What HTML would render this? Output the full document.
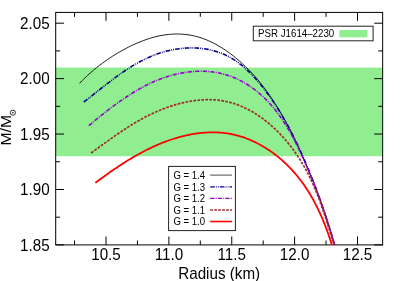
<!DOCTYPE html>
<html><head><meta charset="utf-8"><title>M-R</title>
<style>html,body{margin:0;padding:0;background:#fff;width:400px;height:281px;overflow:hidden;font-family:"Liberation Sans",sans-serif}</style></head>
<body>
<svg width="400" height="281" viewBox="0 0 400 281" style="position:absolute;left:0;top:0;will-change:transform;font-family:'Liberation Sans',sans-serif">
<defs><clipPath id="c"><rect x="55.70" y="12.40" width="326.95" height="232.50"/></clipPath></defs>
<rect width="400" height="281" fill="#fff"/>
<rect x="55.70" y="67.54" width="326.95" height="88.68" fill="#90ee90"/>
<rect x="55.70" y="12.40" width="326.95" height="232.50" fill="none" stroke="#000" stroke-width="1"/>
<path d="M74.56,244.90v-4.4M74.56,12.40v4.4M106.00,244.90v-8.4M106.00,12.40v8.4M137.44,244.90v-4.4M137.44,12.40v4.4M168.88,244.90v-8.4M168.88,12.40v8.4M200.31,244.90v-4.4M200.31,12.40v4.4M231.75,244.90v-8.4M231.75,12.40v8.4M263.19,244.90v-4.4M263.19,12.40v4.4M294.62,244.90v-8.4M294.62,12.40v8.4M326.06,244.90v-4.4M326.06,12.40v4.4M357.50,244.90v-8.4M357.50,12.40v8.4M55.70,244.90h8.4M382.65,244.90h-8.4M55.70,217.19h4.4M382.65,217.19h-4.4M55.70,189.47h8.4M382.65,189.47h-8.4M55.70,161.76h4.4M382.65,161.76h-4.4M55.70,134.05h8.4M382.65,134.05h-8.4M55.70,106.34h4.4M382.65,106.34h-4.4M55.70,78.63h8.4M382.65,78.63h-8.4M55.70,50.91h4.4M382.65,50.91h-4.4M55.70,23.20h8.4M382.65,23.20h-8.4" stroke="#000" stroke-width="1" fill="none"/>
<text transform="translate(106.00,260.00) scale(1.0,1.05)" font-size="15.2" text-anchor="middle">10.5</text>
<text transform="translate(168.88,260.00) scale(1.0,1.05)" font-size="15.2" text-anchor="middle">11.0</text>
<text transform="translate(231.75,260.00) scale(1.0,1.05)" font-size="15.2" text-anchor="middle">11.5</text>
<text transform="translate(294.62,260.00) scale(1.0,1.05)" font-size="15.2" text-anchor="middle">12.0</text>
<text transform="translate(357.50,260.00) scale(1.0,1.05)" font-size="15.2" text-anchor="middle">12.5</text>
<text transform="translate(49.60,250.70) scale(1.0,1.05)" font-size="15.2" text-anchor="end">1.85</text>
<text transform="translate(49.60,195.28) scale(1.0,1.05)" font-size="15.2" text-anchor="end">1.90</text>
<text transform="translate(49.60,139.85) scale(1.0,1.05)" font-size="15.2" text-anchor="end">1.95</text>
<text transform="translate(49.60,84.43) scale(1.0,1.05)" font-size="15.2" text-anchor="end">2.00</text>
<text transform="translate(49.60,29.00) scale(1.0,1.05)" font-size="15.2" text-anchor="end">2.05</text>
<text transform="translate(219.20,279.40) scale(1.0,1.05)" font-size="15.2" text-anchor="middle">Radius (km)</text>
<g transform="translate(11,145.6) rotate(-90)"><text x="0" y="0" font-size="15.2" transform="scale(1.04,0.96)">M/M</text></g>
<circle cx="12.9" cy="112.7" r="2.6" fill="none" stroke="#000" stroke-width="0.8"/><circle cx="12.9" cy="112.7" r="0.8" fill="#000"/>
<g clip-path="url(#c)" fill="none" stroke-linejoin="round">
<path d="M79.59,83.38 L80.84,82.05 L82.12,80.73 L83.42,79.41 L84.75,78.10 L86.11,76.80 L87.49,75.50 L88.90,74.21 L90.33,72.93 L91.78,71.66 L93.26,70.40 L94.76,69.15 L96.28,67.91 L97.83,66.68 L99.39,65.46 L100.97,64.26 L102.58,63.06 L104.20,61.88 L105.84,60.72 L107.50,59.57 L109.18,58.43 L110.88,57.31 L112.59,56.20 L114.31,55.11 L116.06,54.04 L117.81,52.99 L119.58,51.95 L121.37,50.93 L123.17,49.94 L124.98,48.96 L126.80,48.00 L128.63,47.06 L130.47,46.15 L132.33,45.26 L134.19,44.39 L136.06,43.56 L137.94,42.74 L139.83,41.96 L141.73,41.21 L143.63,40.48 L145.54,39.79 L147.45,39.14 L149.37,38.51 L151.30,37.93 L153.23,37.37 L155.16,36.86 L157.09,36.39 L159.03,35.95 L160.97,35.56 L162.90,35.21 L164.84,34.90 L166.78,34.64 L168.72,34.43 L170.66,34.26 L172.60,34.13 L174.53,34.05 L176.46,34.02 L178.39,34.03 L180.32,34.09 L182.24,34.20 L184.15,34.35 L186.06,34.55 L187.96,34.80 L189.86,35.09 L191.75,35.43 L193.63,35.82 L195.51,36.26 L197.37,36.74 L199.23,37.27 L201.08,37.85 L202.91,38.48 L204.74,39.16 L206.55,39.88 L208.36,40.64 L210.15,41.45 L211.92,42.29 L213.69,43.18 L215.44,44.10 L217.17,45.06 L218.89,46.05 L220.59,47.07 L222.28,48.12 L223.95,49.19 L225.61,50.29 L227.24,51.42 L228.86,52.57 L230.46,53.74 L232.04,54.93 L233.61,56.15 L235.15,57.38 L236.68,58.63 L238.19,59.91 L239.69,61.20 L241.16,62.51 L242.62,63.84 L244.07,65.19 L245.49,66.56 L246.90,67.95 L248.30,69.35 L249.68,70.77 L251.04,72.21 L252.39,73.66 L253.72,75.13 L255.04,76.61 L256.34,78.12 L257.63,79.63 L258.90,81.16 L260.16,82.70 L261.40,84.26 L262.63,85.83 L263.85,87.42 L265.05,89.02 L266.24,90.63 L267.41,92.25 L268.57,93.88 L269.72,95.53 L270.86,97.18 L271.98,98.85 L273.09,100.53 L274.19,102.22 L275.27,103.91 L276.35,105.62 L277.41,107.33 L278.46,109.06 L279.50,110.79 L280.53,112.53 L281.54,114.28 L282.55,116.03 L283.54,117.79 L284.53,119.56 L285.50,121.33 L286.46,123.11 L287.42,124.90 L288.36,126.69 L289.29,128.48 L290.22,130.28 L291.13,132.08 L292.04,133.89 L292.93,135.70 L293.82,137.51 L294.70,139.33 L295.57,141.15 L296.43,142.96 L297.29,144.79 L298.13,146.61 L298.97,148.43 L299.80,150.25 L300.63,152.08 L301.44,153.90 L302.25,155.72 L303.05,157.54 L303.85,159.36 L304.64,161.18 L305.42,162.99 L306.20,164.81 L306.97,166.62 L307.73,168.43 L308.49,170.24 L309.24,172.04 L309.99,173.85 L310.73,175.65 L311.46,177.46 L312.19,179.26 L312.92,181.07 L313.63,182.87 L314.34,184.68 L315.05,186.49 L315.75,188.29 L316.45,190.11 L317.14,191.92 L317.82,193.73 L318.50,195.55 L319.18,197.37 L319.85,199.19 L320.51,201.02 L321.17,202.85 L321.82,204.68 L322.47,206.52 L323.11,208.36 L323.75,210.21 L324.39,212.07 L325.02,213.92 L325.64,215.79 L326.26,217.66 L326.88,219.54 L327.49,221.42 L328.10,223.31 L328.70,225.21 L329.30,227.11 L329.89,229.03 L330.48,230.95 L331.06,232.88 L331.65,234.82 L332.22,236.76 L332.80,238.72 L333.36,240.69 L333.93,242.66 L334.49,244.65 L335.05,246.64 L335.60,248.65" stroke="#000000" stroke-width="0.9"/>
<path d="M83.79,102.01 L85.22,100.93 L86.65,99.83 L88.09,98.71 L89.54,97.59 L90.99,96.45 L92.45,95.30 L93.92,94.14 L95.40,92.98 L96.88,91.80 L98.37,90.62 L99.86,89.44 L101.37,88.25 L102.88,87.06 L104.40,85.87 L105.93,84.67 L107.47,83.48 L109.02,82.29 L110.57,81.10 L112.14,79.92 L113.71,78.74 L115.29,77.57 L116.89,76.40 L118.49,75.25 L120.10,74.10 L121.72,72.97 L123.35,71.84 L124.99,70.73 L126.64,69.64 L128.30,68.56 L129.98,67.49 L131.66,66.44 L133.35,65.42 L135.06,64.41 L136.78,63.42 L138.50,62.45 L140.24,61.51 L141.99,60.59 L143.76,59.70 L145.53,58.83 L147.32,58.00 L149.12,57.19 L150.93,56.41 L152.75,55.66 L154.59,54.94 L156.44,54.26 L158.30,53.60 L160.17,52.99 L162.05,52.40 L163.93,51.85 L165.83,51.34 L167.73,50.85 L169.64,50.41 L171.55,50.00 L173.47,49.62 L175.39,49.28 L177.32,48.98 L179.24,48.71 L181.17,48.48 L183.10,48.29 L185.03,48.14 L186.95,48.02 L188.87,47.95 L190.79,47.91 L192.71,47.91 L194.62,47.96 L196.53,48.04 L198.43,48.16 L200.32,48.32 L202.21,48.53 L204.08,48.77 L205.95,49.06 L207.80,49.39 L209.65,49.77 L211.48,50.18 L213.30,50.64 L215.10,51.14 L216.89,51.69 L218.67,52.28 L220.42,52.92 L222.17,53.60 L223.89,54.33 L225.59,55.10 L227.28,55.92 L228.94,56.79 L230.59,57.70 L232.21,58.66 L233.82,59.65 L235.40,60.69 L236.97,61.77 L238.51,62.88 L240.04,64.04 L241.55,65.23 L243.04,66.45 L244.51,67.70 L245.96,68.99 L247.40,70.30 L248.82,71.65 L250.22,73.02 L251.60,74.41 L252.96,75.84 L254.31,77.28 L255.65,78.74 L256.96,80.23 L258.26,81.73 L259.54,83.25 L260.81,84.79 L262.06,86.34 L263.30,87.90 L264.52,89.48 L265.73,91.07 L266.92,92.66 L268.10,94.26 L269.26,95.87 L270.41,97.49 L271.54,99.11 L272.66,100.74 L273.77,102.38 L274.86,104.02 L275.94,105.67 L277.01,107.33 L278.06,108.99 L279.11,110.66 L280.14,112.33 L281.15,114.01 L282.16,115.69 L283.15,117.38 L284.14,119.08 L285.11,120.78 L286.07,122.48 L287.02,124.19 L287.96,125.90 L288.89,127.62 L289.80,129.35 L290.71,131.07 L291.61,132.80 L292.50,134.54 L293.38,136.27 L294.25,138.02 L295.11,139.76 L295.96,141.51 L296.80,143.26 L297.64,145.01 L298.47,146.77 L299.29,148.53 L300.10,150.29 L300.90,152.05 L301.70,153.82 L302.49,155.59 L303.27,157.36 L304.05,159.13 L304.82,160.90 L305.58,162.68 L306.34,164.45 L307.09,166.23 L307.83,168.01 L308.57,169.79 L309.30,171.57 L310.03,173.35 L310.75,175.14 L311.47,176.92 L312.18,178.71 L312.88,180.50 L313.58,182.29 L314.28,184.09 L314.96,185.88 L315.65,187.68 L316.32,189.48 L317.00,191.28 L317.66,193.08 L318.33,194.89 L318.98,196.70 L319.64,198.51 L320.28,200.32 L320.93,202.14 L321.56,203.96 L322.20,205.78 L322.82,207.61 L323.45,209.43 L324.07,211.26 L324.68,213.09 L325.29,214.93 L325.90,216.77 L326.50,218.61 L327.09,220.45 L327.69,222.30 L328.27,224.15 L328.86,226.01 L329.44,227.87 L330.01,229.73 L330.59,231.59 L331.15,233.46 L331.72,235.33 L332.28,237.21 L332.84,239.09 L333.39,240.97 L333.94,242.86 L334.49,244.75 L335.03,246.64 L335.57,248.54" stroke="#00008b" stroke-width="1.6" stroke-dasharray="4.6 1.1 0.9 1.1 0.9 1.1"/>
<path d="M88.88,125.69 L90.22,124.53 L91.57,123.37 L92.93,122.22 L94.29,121.07 L95.66,119.92 L97.04,118.78 L98.43,117.65 L99.82,116.52 L101.23,115.39 L102.64,114.27 L104.06,113.15 L105.48,112.04 L106.92,110.93 L108.36,109.83 L109.81,108.73 L111.27,107.64 L112.74,106.55 L114.22,105.47 L115.70,104.39 L117.19,103.32 L118.70,102.25 L120.21,101.19 L121.73,100.13 L123.26,99.08 L124.80,98.04 L126.34,97.01 L127.90,95.98 L129.46,94.96 L131.04,93.96 L132.62,92.97 L134.22,91.99 L135.82,91.02 L137.44,90.07 L139.06,89.13 L140.69,88.21 L142.33,87.30 L143.99,86.42 L145.65,85.55 L147.32,84.70 L149.01,83.88 L150.70,83.07 L152.40,82.29 L154.12,81.53 L155.84,80.80 L157.58,80.09 L159.32,79.40 L161.07,78.74 L162.83,78.10 L164.60,77.49 L166.37,76.91 L168.15,76.35 L169.94,75.82 L171.73,75.31 L173.53,74.84 L175.33,74.39 L177.14,73.97 L178.94,73.57 L180.76,73.21 L182.57,72.88 L184.39,72.57 L186.20,72.30 L188.02,72.05 L189.84,71.84 L191.66,71.66 L193.48,71.51 L195.30,71.39 L197.11,71.31 L198.93,71.25 L200.74,71.23 L202.54,71.25 L204.35,71.29 L206.15,71.37 L207.94,71.49 L209.74,71.64 L211.52,71.83 L213.30,72.05 L215.07,72.30 L216.84,72.60 L218.59,72.93 L220.34,73.30 L222.08,73.70 L223.81,74.14 L225.54,74.63 L227.25,75.15 L228.95,75.70 L230.64,76.30 L232.32,76.93 L233.98,77.61 L235.64,78.31 L237.28,79.06 L238.91,79.84 L240.53,80.65 L242.13,81.49 L243.71,82.37 L245.29,83.28 L246.85,84.23 L248.39,85.20 L249.92,86.21 L251.43,87.24 L252.92,88.31 L254.40,89.40 L255.86,90.52 L257.30,91.67 L258.72,92.84 L260.13,94.04 L261.52,95.26 L262.89,96.51 L264.23,97.79 L265.56,99.08 L266.87,100.40 L268.16,101.74 L269.42,103.10 L270.67,104.49 L271.90,105.89 L273.10,107.31 L274.29,108.75 L275.46,110.21 L276.61,111.69 L277.74,113.18 L278.86,114.69 L279.95,116.22 L281.03,117.76 L282.10,119.31 L283.14,120.88 L284.17,122.46 L285.19,124.05 L286.19,125.65 L287.17,127.27 L288.14,128.89 L289.10,130.53 L290.04,132.17 L290.97,133.82 L291.88,135.48 L292.79,137.15 L293.67,138.82 L294.55,140.50 L295.42,142.18 L296.27,143.87 L297.11,145.56 L297.95,147.25 L298.77,148.95 L299.58,150.65 L300.38,152.35 L301.17,154.05 L301.96,155.75 L302.73,157.45 L303.50,159.14 L304.25,160.84 L305.00,162.53 L305.75,164.22 L306.48,165.91 L307.21,167.59 L307.93,169.27 L308.65,170.94 L309.36,172.61 L310.06,174.28 L310.76,175.95 L311.45,177.62 L312.13,179.28 L312.81,180.95 L313.48,182.61 L314.15,184.28 L314.81,185.94 L315.46,187.60 L316.11,189.27 L316.75,190.93 L317.39,192.60 L318.02,194.27 L318.65,195.94 L319.27,197.61 L319.89,199.29 L320.50,200.97 L321.11,202.65 L321.71,204.34 L322.31,206.03 L322.91,207.72 L323.50,209.42 L324.08,211.13 L324.67,212.84 L325.24,214.55 L325.82,216.27 L326.39,218.00 L326.95,219.74 L327.52,221.48 L328.08,223.23 L328.63,224.99 L329.18,226.75 L329.73,228.53 L330.28,230.31 L330.82,232.10 L331.37,233.90 L331.90,235.72 L332.44,237.54 L332.97,239.37 L333.50,241.21 L334.03,243.07 L334.56,244.93 L335.08,246.81 L335.60,248.70" stroke="#9400d3" stroke-width="1.6" stroke-dasharray="4.2 1.2 1 1.2"/>
<path d="M91.17,152.96 L92.53,151.98 L93.89,151.00 L95.25,150.01 L96.62,149.02 L97.98,148.03 L99.35,147.04 L100.71,146.05 L102.09,145.05 L103.46,144.06 L104.83,143.07 L106.21,142.07 L107.60,141.08 L108.98,140.09 L110.37,139.10 L111.76,138.11 L113.16,137.13 L114.56,136.15 L115.96,135.17 L117.37,134.20 L118.79,133.23 L120.21,132.27 L121.63,131.31 L123.06,130.36 L124.49,129.42 L125.93,128.48 L127.38,127.55 L128.83,126.63 L130.29,125.71 L131.75,124.80 L133.23,123.90 L134.70,123.02 L136.19,122.14 L137.68,121.27 L139.18,120.41 L140.69,119.56 L142.21,118.73 L143.73,117.90 L145.26,117.09 L146.80,116.29 L148.35,115.51 L149.91,114.74 L151.47,113.98 L153.05,113.23 L154.63,112.51 L156.23,111.79 L157.83,111.10 L159.44,110.42 L161.06,109.75 L162.68,109.10 L164.31,108.48 L165.95,107.86 L167.59,107.27 L169.24,106.70 L170.90,106.14 L172.56,105.61 L174.23,105.09 L175.89,104.60 L177.57,104.12 L179.24,103.67 L180.92,103.24 L182.61,102.83 L184.29,102.45 L185.98,102.09 L187.67,101.75 L189.36,101.43 L191.05,101.14 L192.74,100.88 L194.43,100.64 L196.12,100.42 L197.81,100.24 L199.50,100.08 L201.19,99.94 L202.88,99.84 L204.56,99.76 L206.25,99.71 L207.92,99.68 L209.60,99.69 L211.27,99.73 L212.94,99.80 L214.61,99.90 L216.27,100.02 L217.92,100.18 L219.57,100.38 L221.22,100.60 L222.85,100.86 L224.49,101.15 L226.11,101.47 L227.73,101.83 L229.34,102.22 L230.94,102.65 L232.53,103.11 L234.12,103.60 L235.70,104.12 L237.26,104.67 L238.83,105.26 L240.38,105.88 L241.92,106.52 L243.45,107.20 L244.98,107.90 L246.49,108.64 L248.00,109.40 L249.49,110.19 L250.98,111.00 L252.45,111.84 L253.91,112.71 L255.37,113.61 L256.81,114.52 L258.24,115.47 L259.66,116.43 L261.07,117.42 L262.47,118.43 L263.85,119.47 L265.23,120.53 L266.59,121.60 L267.94,122.70 L269.28,123.82 L270.60,124.96 L271.92,126.11 L273.21,127.29 L274.50,128.48 L275.77,129.70 L277.03,130.92 L278.28,132.17 L279.51,133.43 L280.73,134.71 L281.93,136.00 L283.12,137.30 L284.30,138.62 L285.46,139.96 L286.60,141.30 L287.73,142.66 L288.85,144.03 L289.95,145.42 L291.03,146.81 L292.10,148.21 L293.15,149.63 L294.19,151.05 L295.21,152.48 L296.21,153.92 L297.19,155.37 L298.16,156.82 L299.12,158.28 L300.05,159.75 L300.97,161.22 L301.87,162.70 L302.75,164.19 L303.62,165.67 L304.47,167.17 L305.31,168.67 L306.13,170.17 L306.93,171.68 L307.72,173.20 L308.50,174.72 L309.26,176.24 L310.01,177.77 L310.75,179.30 L311.47,180.84 L312.18,182.38 L312.88,183.93 L313.57,185.48 L314.24,187.04 L314.91,188.60 L315.56,190.16 L316.20,191.73 L316.84,193.30 L317.46,194.87 L318.08,196.45 L318.68,198.03 L319.28,199.62 L319.87,201.21 L320.46,202.80 L321.03,204.40 L321.60,206.00 L322.16,207.60 L322.72,209.21 L323.27,210.81 L323.81,212.43 L324.35,214.04 L324.89,215.66 L325.42,217.28 L325.95,218.90 L326.47,220.53 L326.99,222.15 L327.51,223.78 L328.02,225.42 L328.54,227.05 L329.05,228.69 L329.56,230.33 L330.07,231.97 L330.58,233.61 L331.09,235.26 L331.59,236.90 L332.10,238.55 L332.61,240.20 L333.12,241.85 L333.64,243.51 L334.15,245.16 L334.67,246.82 L335.19,248.47" stroke="#a52a2a" stroke-width="1.7" stroke-dasharray="2.7 1.3"/>
<path d="M95.38,182.87 L96.55,181.98 L97.73,181.09 L98.92,180.21 L100.12,179.32 L101.32,178.43 L102.53,177.54 L103.75,176.66 L104.97,175.77 L106.20,174.89 L107.43,174.00 L108.68,173.12 L109.92,172.24 L111.18,171.36 L112.44,170.49 L113.71,169.61 L114.98,168.74 L116.26,167.88 L117.55,167.02 L118.84,166.16 L120.14,165.30 L121.45,164.45 L122.76,163.61 L124.07,162.77 L125.40,161.93 L126.73,161.10 L128.06,160.28 L129.41,159.46 L130.75,158.65 L132.11,157.85 L133.47,157.05 L134.83,156.26 L136.21,155.48 L137.58,154.70 L138.97,153.94 L140.36,153.18 L141.75,152.43 L143.15,151.69 L144.56,150.96 L145.97,150.24 L147.39,149.53 L148.82,148.83 L150.25,148.14 L151.68,147.46 L153.12,146.79 L154.57,146.13 L156.02,145.49 L157.48,144.85 L158.94,144.23 L160.41,143.62 L161.89,143.02 L163.37,142.44 L164.85,141.87 L166.34,141.31 L167.84,140.77 L169.34,140.24 L170.85,139.73 L172.36,139.23 L173.87,138.74 L175.39,138.27 L176.91,137.82 L178.43,137.38 L179.96,136.96 L181.49,136.55 L183.03,136.17 L184.57,135.79 L186.10,135.44 L187.64,135.10 L189.19,134.78 L190.73,134.48 L192.28,134.20 L193.82,133.94 L195.37,133.69 L196.92,133.47 L198.46,133.26 L200.01,133.07 L201.56,132.91 L203.10,132.76 L204.65,132.64 L206.19,132.53 L207.74,132.45 L209.28,132.39 L210.82,132.35 L212.36,132.33 L213.89,132.34 L215.42,132.37 L216.95,132.42 L218.48,132.49 L220.00,132.59 L221.52,132.71 L223.04,132.86 L224.55,133.03 L226.06,133.22 L227.56,133.44 L229.06,133.68 L230.55,133.95 L232.04,134.25 L233.52,134.57 L235.00,134.91 L236.47,135.28 L237.94,135.67 L239.40,136.08 L240.85,136.52 L242.30,136.98 L243.74,137.46 L245.18,137.97 L246.60,138.50 L248.02,139.04 L249.44,139.62 L250.84,140.21 L252.24,140.82 L253.63,141.46 L255.02,142.11 L256.39,142.79 L257.76,143.48 L259.12,144.20 L260.47,144.93 L261.81,145.68 L263.14,146.46 L264.47,147.25 L265.78,148.06 L267.09,148.89 L268.38,149.74 L269.67,150.60 L270.95,151.48 L272.22,152.38 L273.47,153.30 L274.72,154.23 L275.96,155.18 L277.18,156.15 L278.40,157.13 L279.60,158.12 L280.80,159.14 L281.98,160.17 L283.15,161.21 L284.31,162.27 L285.45,163.34 L286.59,164.42 L287.71,165.52 L288.82,166.64 L289.92,167.76 L291.01,168.90 L292.08,170.06 L293.14,171.22 L294.19,172.40 L295.23,173.59 L296.25,174.79 L297.26,176.01 L298.25,177.23 L299.23,178.47 L300.20,179.71 L301.15,180.97 L302.09,182.24 L303.01,183.51 L303.92,184.80 L304.82,186.10 L305.70,187.40 L306.57,188.72 L307.43,190.04 L308.28,191.37 L309.11,192.71 L309.93,194.06 L310.73,195.42 L311.53,196.78 L312.31,198.15 L313.08,199.53 L313.83,200.91 L314.58,202.30 L315.31,203.70 L316.03,205.10 L316.75,206.51 L317.44,207.93 L318.13,209.34 L318.81,210.77 L319.48,212.20 L320.13,213.63 L320.78,215.06 L321.41,216.50 L322.04,217.95 L322.65,219.40 L323.26,220.85 L323.85,222.30 L324.44,223.76 L325.01,225.21 L325.58,226.67 L326.13,228.13 L326.68,229.60 L327.22,231.06 L327.75,232.53 L328.27,233.99 L328.78,235.46 L329.29,236.93 L329.78,238.39 L330.27,239.86 L330.75,241.33 L331.22,242.79 L331.69,244.26 L332.14,245.72 L332.59,247.18 L333.03,248.64" stroke="#ff0000" stroke-width="1.8"/>
</g>
<rect x="253.3" y="26.2" width="119.8" height="14.6" fill="#fff" stroke="#222" stroke-width="1"/>
<text transform="translate(258.00,37.40) scale(0.945,1.03)" font-size="10.3" text-anchor="start">PSR J1614&#8211;2230</text>
<rect x="339.4" y="30" width="28" height="7.4" fill="#90ee90"/>
<rect x="168.6" y="166.4" width="66.8" height="64.2" fill="#fff" stroke="#222" stroke-width="1"/>
<text transform="translate(173.40,178.80) scale(1.0,1.06)" font-size="9.6" text-anchor="start">G = 1.4</text>
<path d="M210.2,175.10H232" stroke="#000000" stroke-width="0.7" fill="none"/>
<text transform="translate(173.40,190.50) scale(1.0,1.06)" font-size="9.6" text-anchor="start">G = 1.3</text>
<path d="M210.2,186.80H232" stroke="#00008b" stroke-width="1.35" stroke-dasharray="4.6 1.1 0.9 1.1 0.9 1.1" fill="none"/>
<text transform="translate(173.40,202.10) scale(1.0,1.06)" font-size="9.6" text-anchor="start">G = 1.2</text>
<path d="M210.2,198.40H232" stroke="#9400d3" stroke-width="1.35" stroke-dasharray="4.2 1.2 1 1.2" fill="none"/>
<text transform="translate(173.40,213.70) scale(1.0,1.06)" font-size="9.6" text-anchor="start">G = 1.1</text>
<path d="M210.2,210.00H232" stroke="#a52a2a" stroke-width="1.35" stroke-dasharray="2.7 1.3" fill="none"/>
<text transform="translate(173.40,225.20) scale(1.0,1.06)" font-size="9.6" text-anchor="start">G = 1.0</text>
<path d="M210.2,221.50H232" stroke="#ff0000" stroke-width="1.6" fill="none"/>
</svg>
</body></html>
